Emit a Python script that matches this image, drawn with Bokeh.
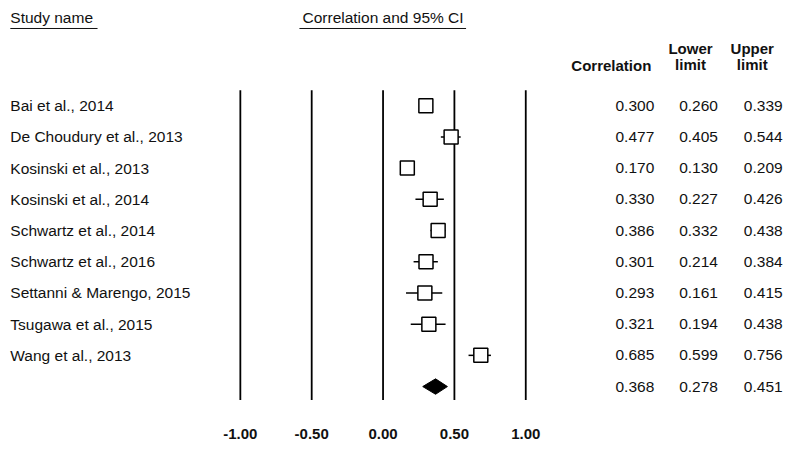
from bokeh.plotting import figure
from bokeh.models import Range1d
from bokeh.embed import file_html
from bokeh.resources import INLINE
from bokeh.core.properties import value

# ---------------- data ----------------
studies = [
    "Bai et al., 2014",
    "De Choudury et al., 2013",
    "Kosinski et al., 2013",
    "Kosinski et al., 2014",
    "Schwartz et al., 2014",
    "Schwartz et al., 2016",
    "Settanni & Marengo, 2015",
    "Tsugawa et al., 2015",
    "Wang et al., 2013",
]
corr = [0.300, 0.477, 0.170, 0.330, 0.386, 0.301, 0.293, 0.321, 0.685]
lower = [0.260, 0.405, 0.130, 0.227, 0.332, 0.214, 0.161, 0.194, 0.599]
upper = [0.339, 0.544, 0.209, 0.426, 0.438, 0.384, 0.415, 0.438, 0.756]
summary_corr = 0.368
summary_lower = 0.278
summary_upper = 0.451
ticks = [-1.0, -0.5, 0.0, 0.5, 1.0]
tick_labels = ["-1.00", "-0.50", "0.00", "0.50", "1.00"]

# ---------------- layout (reference pixels scaled into the canvas) ----------------
W, H = 790, 444
SX, SY = W / 806.0, H / 460.0


def cx(ref_px):
    """reference x pixel -> data x"""
    return (ref_px * SX - PX_ZERO) / PX_UNIT


def cy(ref_py):
    """reference y pixel -> data row"""
    return (ref_py * SY - ROW0) / ROW_H


PX_ZERO = 390.3 * SX     # canvas x of correlation 0
PX_UNIT = 145.6 * SX     # canvas pixels per correlation unit
ROW0 = 109.0 * SY        # canvas y of first row
ROW_H = 32.33 * SY       # canvas pixels per row

FONT = value("Liberation Sans")
FS = "15.5px"
FSB = "15px"
TXT = "#111111"

p = figure(width=W, height=H,
           x_range=Range1d((0 - PX_ZERO) / PX_UNIT, (W - PX_ZERO) / PX_UNIT),
           y_range=Range1d((H - ROW0) / ROW_H, (0 - ROW0) / ROW_H),
           output_backend="svg", toolbar_location=None, min_border=0)
p.axis.visible = False
p.grid.visible = False
p.outline_line_color = None
p.background_fill_color = "white"

n = len(studies)
rows = list(range(n))
sum_row = n

# vertical reference lines
p.segment(x0=ticks, x1=ticks, y0=[cy(93)] * len(ticks), y1=[cy(414)] * len(ticks),
          line_color="black", line_width=1.8)

# CI whiskers
p.segment(x0=lower, x1=upper, y0=rows, y1=rows, line_color="black", line_width=1.5)
# point estimates
p.scatter(x=corr, y=rows, marker="square", size=14, fill_color="white",
          line_color="black", line_width=1.5)

# summary diamond
dh = 7.7 / ROW_H
p.patch(x=[summary_lower, summary_corr, summary_upper, summary_corr],
        y=[sum_row, sum_row - dh, sum_row, sum_row + dh],
        fill_color="black", line_color="black", line_width=1)

# study names
p.text(x=[cx(10)] * n, y=rows, text=studies, text_font=FONT, text_font_size=FS,
       text_align="left", text_baseline="middle", text_color=TXT)

# numeric columns
col_x = [cx(667), cx(732), cx(798)]
all_rows = rows + [sum_row]
for cx_, vals in zip(col_x, [corr + [summary_corr], lower + [summary_lower], upper + [summary_upper]]):
    p.text(x=[cx_] * len(all_rows), y=all_rows, text=["%.3f" % v for v in vals],
           text_font=FONT, text_font_size=FS, text_align="right",
           text_baseline="middle", text_color=TXT)

# tick labels
p.text(x=ticks, y=[cy(449)] * len(ticks), text=tick_labels, text_font=FONT,
       text_font_size=FSB, text_font_style="bold", text_align="center",
       text_baseline="middle", text_color=TXT)

# headers
p.text(x=[cx(10)], y=[cy(18)], text=["Study name"], text_font=FONT, text_font_size=FS,
       text_align="left", text_baseline="middle", text_color=TXT)
p.segment(x0=[cx(10)], x1=[cx(99)], y0=[cy(29)], y1=[cy(29)], line_color=TXT, line_width=1)
p.text(x=[0.0], y=[cy(18)], text=["Correlation and 95% CI"], text_font=FONT,
       text_font_size=FS, text_align="center", text_baseline="middle", text_color=TXT)
p.segment(x0=[cx(305)], x1=[cx(475)], y0=[cy(29)], y1=[cy(29)], line_color=TXT, line_width=1)

p.text(x=[cx(664)], y=[cy(67)], text=["Correlation"], text_font=FONT, text_font_size=FSB,
       text_font_style="bold", text_align="right", text_baseline="middle", text_color=TXT)
p.text(x=[cx(704), cx(767)], y=[cy(50), cy(50)], text=["Lower", "Upper"], text_font=FONT,
       text_font_size=FSB, text_font_style="bold", text_align="center",
       text_baseline="middle", text_color=TXT)
p.text(x=[cx(704), cx(767)], y=[cy(66), cy(66)], text=["limit", "limit"], text_font=FONT,
       text_font_size=FSB, text_font_style="bold", text_align="center",
       text_baseline="middle", text_color=TXT)

open("out.html", "w").write(file_html(p, INLINE))
